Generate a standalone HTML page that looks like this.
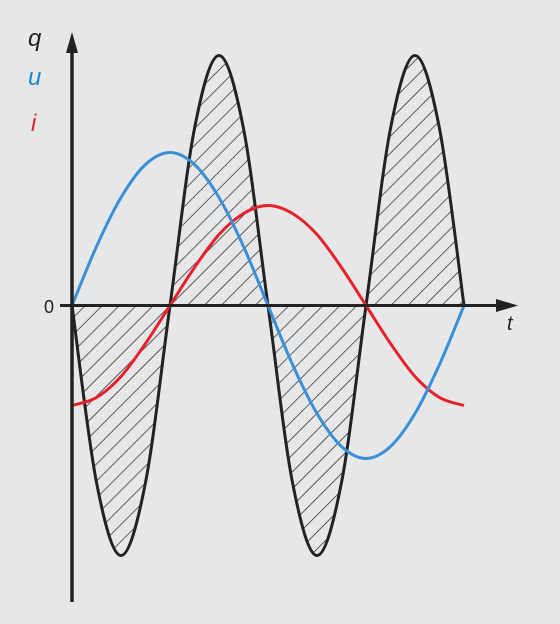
<!DOCTYPE html>
<html><head><meta charset="utf-8"><style>
html,body{margin:0;padding:0;background:#e6e7e9;}
svg{display:block;}
text{font-family:"Liberation Sans",sans-serif;}
</style></head><body>
<svg id="chart" width="560" height="624" viewBox="0 0 560 624" xmlns="http://www.w3.org/2000/svg">
<defs>
<pattern id="hatch" patternUnits="userSpaceOnUse" width="12" height="12" patternTransform="rotate(45)">
<line x1="0" y1="0" x2="0" y2="12" stroke="#222" stroke-width="1.4"/>
</pattern>
</defs>
<rect width="560" height="624" fill="#e6e7e9"/>
<g id="plot"></g>
<line x1="72" y1="602" x2="72" y2="50" stroke="#222" stroke-width="3.5"/>
<polygon points="72,32 66,53 78,53" fill="#222"/>
<line x1="60" y1="305.5" x2="500" y2="305.5" stroke="#222" stroke-width="3"/>
<polygon points="518,305.5 496,299 496,312" fill="#222"/>
<text x="44" y="313" font-size="18" fill="#222">0</text>
<text x="507" y="330" font-size="20" font-style="italic" fill="#222">t</text>
<text x="28" y="46" font-size="24" font-style="italic" fill="#222">q</text>
<text x="28" y="85" font-size="24" font-style="italic" fill="#1e88d0">u</text>
<text x="31" y="131" font-size="24" font-style="italic" fill="#e8202a">i</text>
</svg>
<script>
// samples at 1/16-period steps
const steps = [0,1,2,3,4,5,6,7,8,9,10,11,12,13,14,15,16];
const uValues = [0,59,108,141,153,141,108,59,0,-59,-108,-141,-153,-141,-108,-59,0];
const iValues = [-100,-92,-71,-38,0,38,71,92,100,92,71,38,0,-38,-71,-92,-100];
const qValues = [0,-177,-250,-177,0,177,250,177,0,-177,-250,-177,0,177,250,177,0];

const x0 = 72, x1 = 464, y0 = 305.5;
function xs(s){ return x0 + (x1 - x0) * s / 16; }
function ys(v){ return y0 - v; }
function pathFrom(vals){
  const p = vals.map((v,k)=>[xs(steps[k]), ys(v)]);
  let d = 'M' + p[0][0] + ',' + p[0][1];
  for(let k=0;k<p.length-1;k++){
    const a=p[k-1]||p[k], b=p[k], c=p[k+1], e=p[k+2]||p[k+1];
    const c1=[b[0]+(c[0]-a[0])/6, b[1]+(c[1]-a[1])/6];
    const c2=[c[0]-(e[0]-b[0])/6, c[1]-(e[1]-b[1])/6];
    d += ' C'+c1[0].toFixed(2)+','+c1[1].toFixed(2)+' '+c2[0].toFixed(2)+','+c2[1].toFixed(2)+' '+c[0].toFixed(2)+','+c[1].toFixed(2);
  }
  return d;
}
const NS='http://www.w3.org/2000/svg';
const g=document.getElementById('plot');
const qFill=document.createElementNS(NS,'path');
qFill.setAttribute('d', pathFrom(qValues)+' Z');
qFill.setAttribute('fill','url(#hatch)');


g.appendChild(qFill);
const qLine=document.createElementNS(NS,'path');
qLine.setAttribute('d', pathFrom(qValues));
qLine.setAttribute('fill','none');
qLine.setAttribute('stroke','#222');
qLine.setAttribute('stroke-width','3');


g.appendChild(qLine);
const iLine=document.createElementNS(NS,'path');
iLine.setAttribute('d', pathFrom(iValues));
iLine.setAttribute('fill','none');
iLine.setAttribute('stroke','#e8202a');
iLine.setAttribute('stroke-width','3');


g.appendChild(iLine);
const uLine=document.createElementNS(NS,'path');
uLine.setAttribute('d', pathFrom(uValues));
uLine.setAttribute('fill','none');
uLine.setAttribute('stroke','#3a8fd6');
uLine.setAttribute('stroke-width','3');


g.appendChild(uLine);
</script>
</body></html>
